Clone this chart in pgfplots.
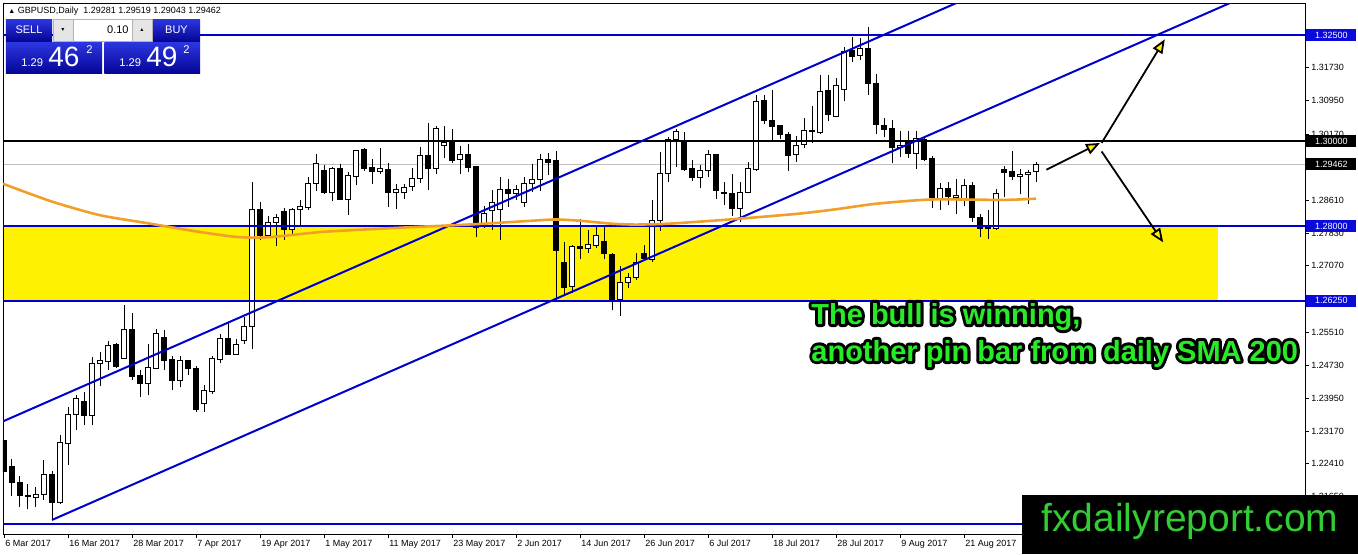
\documentclass[border=0pt]{standalone}
\usepackage{pgfplots}
\pgfplotsset{compat=1.18}
\usepackage{pgfplotstable}
\usepackage{fontspec}
\setmainfont{Liberation Sans}
\usetikzlibrary{arrows.meta}

\definecolor{mtblue}{RGB}{0,0,205}
\definecolor{boxblue}{RGB}{10,10,220}
\definecolor{smaorange}{RGB}{240,160,40}
\definecolor{bidgrey}{RGB}{192,192,192}
\definecolor{txtgreen}{RGB}{40,235,40}
\definecolor{wmgreen}{RGB}{50,205,50}
\definecolor{btntop}{RGB}{45,55,225}
\definecolor{btnbot}{RGB}{5,5,150}

% GBPUSD daily, bar 0 = 6 Mar 2017
\pgfplotstableread{
i o h l c
0 1.2296 1.2300 1.2214 1.2223
1 1.2235 1.2253 1.2166 1.2198
2 1.2198 1.2212 1.2140 1.2166
3 1.2166 1.2194 1.2134 1.2164
4 1.2162 1.2186 1.2140 1.2170
5 1.2168 1.2251 1.2156 1.2217
6 1.2217 1.2223 1.2109 1.2150
7 1.2150 1.2310 1.2146 1.2291
8 1.2289 1.2375 1.2239 1.2356
9 1.2356 1.2402 1.2321 1.2395
10 1.2387 1.2409 1.2332 1.2354
11 1.2354 1.2492 1.2332 1.2478
12 1.2478 1.2504 1.2423 1.2483
13 1.2482 1.2529 1.2461 1.2520
14 1.2522 1.2526 1.2467 1.2470
15 1.2490 1.2615 1.2488 1.2558
16 1.2558 1.2595 1.2439 1.2447
17 1.2448 1.2461 1.2399 1.2429
18 1.2429 1.2524 1.2402 1.2467
19 1.2466 1.2559 1.2465 1.2548
20 1.2538 1.2555 1.2461 1.2484
21 1.2486 1.2494 1.2415 1.2437
22 1.2437 1.2494 1.2421 1.2483
23 1.2483 1.2485 1.2449 1.2465
24 1.2465 1.2472 1.2364 1.2368
25 1.2383 1.2427 1.2364 1.2413
26 1.2411 1.2494 1.2405 1.2490
27 1.2487 1.2546 1.2478 1.2537
28 1.2537 1.2575 1.2498 1.2499
29 1.2499 1.2534 1.2498 1.2522
30 1.2532 1.2587 1.2522 1.2565
31 1.2564 1.2905 1.2512 1.2840
32 1.2840 1.2858 1.2767 1.2778
33 1.2778 1.2823 1.2775 1.2808
34 1.2808 1.2830 1.2753 1.2820
35 1.2835 1.2844 1.2767 1.2792
36 1.2792 1.2844 1.2779 1.2840
37 1.2839 1.2861 1.2802 1.2846
38 1.2845 1.2916 1.2838 1.2900
39 1.2900 1.2970 1.2884 1.2947
40 1.2931 1.2943 1.2877 1.2880
41 1.2880 1.2939 1.2859 1.2935
42 1.2935 1.2947 1.2861 1.2863
43 1.2864 1.2927 1.2827 1.2920
44 1.2918 1.2980 1.2896 1.2978
45 1.2980 1.2984 1.2931 1.2937
46 1.2938 1.2959 1.2900 1.2930
47 1.2930 1.2984 1.2923 1.2935
48 1.2933 1.2948 1.2845 1.2880
49 1.2880 1.2900 1.2841 1.2886
50 1.2879 1.2900 1.2863 1.2892
51 1.2894 1.2938 1.2883 1.2913
52 1.2913 1.2986 1.2902 1.2966
53 1.2966 1.3043 1.2886 1.2935
54 1.2935 1.3037 1.2923 1.3031
55 1.2991 1.3037 1.2961 1.2998
56 1.2999 1.3029 1.2948 1.2955
57 1.2956 1.2988 1.2923 1.2969
58 1.2969 1.2994 1.2927 1.2938
59 1.2941 1.2942 1.2774 1.2796
60 1.2802 1.2847 1.2797 1.2830
61 1.2838 1.2886 1.2792 1.2855
62 1.2840 1.2916 1.2767 1.2886
63 1.2886 1.2911 1.2845 1.2878
64 1.2878 1.2898 1.2861 1.2886
65 1.2857 1.2917 1.2845 1.2900
66 1.2900 1.2947 1.2880 1.2909
67 1.2909 1.2970 1.2884 1.2956
68 1.2956 1.2973 1.2920 1.2951
69 1.2955 1.2977 1.2627 1.2742
70 1.2714 1.2763 1.2638 1.2656
71 1.2658 1.2756 1.2642 1.2752
72 1.2752 1.2817 1.2722 1.2748
73 1.2748 1.2792 1.2736 1.2756
74 1.2754 1.2800 1.2748 1.2779
75 1.2763 1.2802 1.2722 1.2736
76 1.2734 1.2736 1.2602 1.2627
77 1.2627 1.2706 1.2589 1.2668
78 1.2668 1.2689 1.2654 1.2680
79 1.2680 1.2738 1.2674 1.2714
80 1.2736 1.2756 1.2720 1.2724
81 1.2722 1.2861 1.2717 1.2814
82 1.2813 1.2974 1.2789 1.2923
83 1.2923 1.3011 1.2905 1.3003
84 1.3003 1.3029 1.2940 1.3023
85 1.2999 1.3021 1.2929 1.2934
86 1.2935 1.2955 1.2907 1.2915
87 1.2915 1.2943 1.2889 1.2931
88 1.2931 1.2980 1.2915 1.2968
89 1.2969 1.2970 1.2864 1.2884
90 1.2879 1.2904 1.2850 1.2876
91 1.2876 1.2923 1.2825 1.2841
92 1.2841 1.2904 1.2809 1.2880
93 1.2880 1.2951 1.2878 1.2935
94 1.2934 1.3110 1.2931 1.3093
95 1.3096 1.3110 1.3041 1.3049
96 1.3050 1.3121 1.3002 1.3035
97 1.3036 1.3036 1.3005 1.3017
98 1.3017 1.3021 1.2931 1.2966
99 1.2968 1.3013 1.2951 1.2991
100 1.2992 1.3055 1.2983 1.3025
101 1.3026 1.3082 1.2995 1.3023
102 1.3021 1.3155 1.3017 1.3118
103 1.3120 1.3155 1.3047 1.3062
104 1.3058 1.3150 1.3057 1.3132
105 1.3122 1.3221 1.3094 1.3211
106 1.3213 1.3246 1.3187 1.3200
107 1.3201 1.3242 1.3191 1.3219
108 1.3219 1.3268 1.3110 1.3136
109 1.3136 1.3159 1.3017 1.3039
110 1.3036 1.3055 1.3010 1.3028
111 1.3029 1.3051 1.2948 1.2986
112 1.2985 1.3025 1.2964 1.2990
113 1.2998 1.3024 1.2961 1.2972
114 1.2972 1.3025 1.2935 1.3006
115 1.3004 1.3013 1.2954 1.2958
116 1.2959 1.2966 1.2844 1.2867
117 1.2866 1.2902 1.2839 1.2888
118 1.2888 1.2904 1.2849 1.2869
119 1.2867 1.2912 1.2830 1.2872
120 1.2861 1.2912 1.2847 1.2896
121 1.2896 1.2904 1.2810 1.2820
122 1.2820 1.2828 1.2775 1.2795
123 1.2799 1.2838 1.2771 1.2795
124 1.2795 1.2888 1.2792 1.2877
125 1.2933 1.2941 1.2869 1.2927
126 1.2929 1.2976 1.2910 1.2916
127 1.2916 1.2935 1.2875 1.2922
128 1.2922 1.2933 1.2852 1.2927
129 1.29281 1.29519 1.29043 1.29462
}\ohlc

\pgfplotsset{
  mtframe/.style={
    scale only axis, width=651pt, height=265.5pt,
    xmin=-0.125, xmax=162.625, ymin=1.20759, ymax=1.33253,
    axis line style={line width=0.5pt},
  },
}
\newcommand\mtfont{\fontsize{4.5}{5}\selectfont}
% black stroke of the glyph outlines (text render mode 1), for the outlined comment
\newcommand\strokeon{\special{pdf:literal direct 1 Tr 3 w 1 j 0 0 0 RG}}
\newcommand\strokeoff{\special{pdf:literal direct 0 Tr}}

\begin{document}
\begin{tikzpicture}
\useasboundingbox (-1.5pt,-10pt) rectangle (677.5pt,267pt);
\fill[white] (-1.5pt,-10pt) rectangle (677.5pt,267pt);

% background: zone, bid line, wicks
\begin{axis}[mtframe, hide axis]
  \addplot[fill=yellow, draw=none] coordinates {(-1,1.2625) (151.75,1.2625) (151.75,1.28) (-1,1.28)} -- cycle;
  \addplot[bidgrey, line width=0.5pt] coordinates {(-1,1.29462) (164,1.29462)};
  \addplot[draw=none, no markers,
    error bars/.cd, y dir=plus, y explicit, error mark=none,
    error bar style={draw=black, solid, line width=0.5pt}]
    table[x=i, y=l, y error expr=\thisrow{h}-\thisrow{l}] {\ohlc};
\end{axis}

% candle bodies
\begin{axis}[mtframe, hide axis, ybar stacked, bar width=2.4pt]
  \addplot[draw=none, fill=none] table[x=i, y expr={min(\thisrow{o},\thisrow{c})}] {\ohlc};
  \addplot[fill=black, draw=black, line width=0.5pt] table[x=i, y expr={max(\thisrow{o}-\thisrow{c},0)}] {\ohlc};
  \addplot[fill=white, draw=black, line width=0.5pt] table[x=i, y expr={max(\thisrow{c}-\thisrow{o},0)}] {\ohlc};
\end{axis}

% objects, frame and scales
\begin{axis}[mtframe, clip mode=individual,
    tick align=outside, major tick length=2pt,
    tick style={black, line width=0.5pt},
    xtick pos=left, ytick pos=right, yticklabel pos=right,
    xtick={0,8,...,120},
    xticklabels={6 Mar 2017,16 Mar 2017,28 Mar 2017,7 Apr 2017,19 Apr 2017,1 May 2017,11 May 2017,23 May 2017,2 Jun 2017,14 Jun 2017,26 Jun 2017,6 Jul 2017,18 Jul 2017,28 Jul 2017,9 Aug 2017,21 Aug 2017},
    ytick={1.2165,1.2241,1.2317,1.2395,1.2473,1.2551,1.2629,1.2707,1.2783,1.2861,1.2939,1.3017,1.3095,1.3173},
    yticklabels={1.21650,1.22410,1.23170,1.23950,1.24730,1.25510,1.26290,1.27070,1.27830,1.28610,1.29390,1.30170,1.30950,1.31730},
    tick label style={font=\mtfont},
    xticklabel style={anchor=north west, inner sep=0pt, xshift=0.5pt, yshift=-1pt},
    yticklabel style={anchor=west, inner sep=0pt, xshift=1pt},
  ]
  \addplot[mtblue, line width=1pt] coordinates {(-1,1.325) (164,1.325)};
  \addplot[black, line width=1pt] coordinates {(-1,1.30) (164,1.30)};
  \addplot[mtblue, line width=1pt] coordinates {(-1,1.28) (164,1.28)};
  \addplot[mtblue, line width=1pt] coordinates {(-1,1.2625) (164,1.2625)};
  \addplot[mtblue, line width=1pt] coordinates {(-1,1.2100) (164,1.2100)};
  % channel
  \addplot[mtblue, line width=1pt] coordinates {(-1,1.23337) (164,1.36966)};
  \addplot[mtblue, line width=1pt] coordinates {(6,1.2109) (164,1.34141)};
  % SMA 200
  \addplot[smaorange, line width=1.3pt, smooth, tension=0.4] coordinates {
    (-0.125,1.2900) (6,1.2858) (12,1.2826) (18,1.2807) (24,1.2788) (29,1.2775)
    (33,1.2774) (40,1.2787) (50,1.2797) (59,1.2805) (66,1.2813) (69,1.2816)
    (72,1.2813) (76,1.2806) (79,1.2804) (83,1.2806) (90,1.2815) (99,1.2829)
    (104,1.2840) (109,1.2853) (116,1.2863) (125,1.2862) (129,1.2865)};
  % arrows
  \draw[black, line width=0.9pt, -{Triangle[length=7pt, width=5.5pt, fill=yellow]}]
    (axis cs:130.3,1.2933) -- (axis cs:137.0,1.2996);
  \draw[black, line width=0.9pt, -{Triangle[length=7pt, width=5.5pt, fill=yellow]}]
    (axis cs:137.2,1.2996) -- (axis cs:145.1,1.3240);
  \draw[black, line width=0.9pt, -{Triangle[length=7pt, width=5.5pt, fill=yellow]}]
    (axis cs:137.2,1.2976) -- (axis cs:144.9,1.2762);
  \coordinate (p1) at (axis cs:162.625,1.325);
  \coordinate (p2) at (axis cs:162.625,1.30);
  \coordinate (p3) at (axis cs:162.625,1.29462);
  \coordinate (p4) at (axis cs:162.625,1.28);
  \coordinate (p5) at (axis cs:162.625,1.2625);
\end{axis}

% price boxes on the scale
\tikzset{pbox/.style={anchor=west, xshift=0.5pt, inner sep=0pt, minimum width=25pt, minimum height=6pt, text=white, font=\mtfont}}
\node[pbox, fill=boxblue] at (p1) {1.32500};
\node[pbox, fill=black] at (p2) {1.30000};
\node[pbox, fill=black] at (p3) {1.29462};
\node[pbox, fill=boxblue] at (p4) {1.28000};
\node[pbox, fill=boxblue] at (p5) {1.26250};

% header and one-click trading panel
\node[anchor=base west, inner sep=0pt, font=\fontsize{3.5}{4}\selectfont] at (2.5pt,260.5pt) {▲};
\node[anchor=base west, inner sep=0pt, font=\mtfont] at (7.2pt,260.3pt) {GBPUSD,Daily\ \ 1.29281 1.29519 1.29043 1.29462};
\shade[top color=btntop, bottom color=btnbot] (1.5pt,246.5pt) rectangle (24.5pt,257.5pt);
\shade[top color=btntop, bottom color=btnbot] (75pt,246.5pt) rectangle (98.5pt,257.5pt);
\fill[gray!20] (25pt,246.5pt) rectangle (35pt,257.5pt);
\fill[white] (35pt,246.5pt) rectangle (64.5pt,257.5pt);
\fill[gray!20] (64.5pt,246.5pt) rectangle (74.5pt,257.5pt);
\draw[gray!60, line width=0.4pt] (25pt,246.5pt) rectangle (74.5pt,257.5pt) (35pt,246.5pt) -- (35pt,257.5pt) (64.5pt,246.5pt) -- (64.5pt,257.5pt);
\node[text=white, font=\fontsize{5.5}{6}\selectfont] at (13pt,252pt) {SELL};
\node[text=white, font=\fontsize{5.5}{6}\selectfont] at (86.75pt,252pt) {BUY};
\node[font=\fontsize{2.6}{3}\selectfont] at (30pt,252pt) {▼};
\node[font=\fontsize{2.6}{3}\selectfont] at (69.5pt,252pt) {▲};
\node[anchor=east, inner sep=0pt, font=\fontsize{5.5}{6}\selectfont] at (63pt,252pt) {0.10};
\shade[top color=btntop, bottom color=btnbot] (1.5pt,230.3pt) rectangle (49.5pt,246pt);
\shade[top color=btntop, bottom color=btnbot] (50.7pt,230.3pt) rectangle (98.5pt,246pt);
\begin{scope}[every node/.style={anchor=base west, inner sep=0pt, text=white}]
  \node[font=\fontsize{5.6}{6}\selectfont] at (9pt,233.6pt) {1.29};
  \node[font=\fontsize{14}{15}\selectfont] at (22.5pt,233.6pt) {46};
  \node[font=\fontsize{5.6}{6}\selectfont] at (41.5pt,240.3pt) {2};
  \node[font=\fontsize{5.6}{6}\selectfont] at (58pt,233.6pt) {1.29};
  \node[font=\fontsize{14}{15}\selectfont] at (71.5pt,233.6pt) {49};
  \node[font=\fontsize{5.6}{6}\selectfont] at (90pt,240.3pt) {2};
\end{scope}

% comment text: green fill over a black stroked outline, one node per line
\tikzset{bigtxt/.style={anchor=base west, inner sep=0pt, font=\fontsize{14.5}{17}\selectfont\bfseries}}
\node[bigtxt, text=black] at (404pt,105pt) {\strokeon The bull is winning,\strokeoff};
\node[bigtxt, text=black] at (404pt,86.5pt) {\strokeon another pin bar from daily SMA 200\strokeoff};
\node[bigtxt, text=txtgreen] at (404pt,105pt) {The bull is winning,};
\node[bigtxt, text=txtgreen] at (404pt,86.5pt) {another pin bar from daily SMA 200};

% watermark
\fill[black] (509.5pt,-10pt) rectangle (677.5pt,19.5pt);
\node[anchor=base, inner sep=0pt, text=wmgreen, font=\fontsize{19.5}{21}\selectfont] at (593.5pt,1.5pt) {fxdailyreport.com};
\end{tikzpicture}
\end{document}
